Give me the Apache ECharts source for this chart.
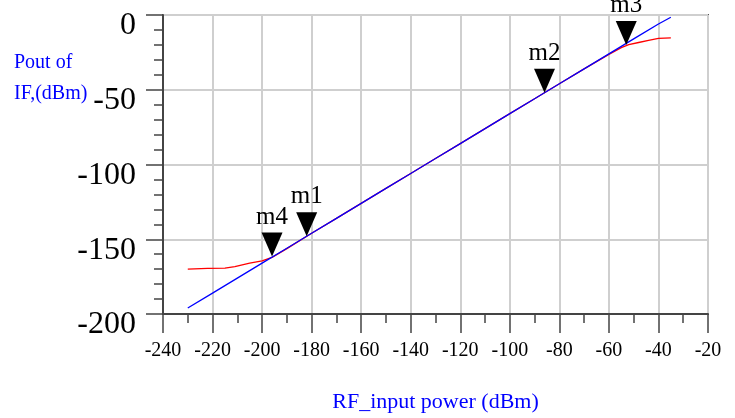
<!DOCTYPE html>
<html>
<head>
<meta charset="utf-8">
<script src="https://cdn.jsdelivr.net/npm/echarts@6/dist/echarts.min.js"></script>
<style>
  html, body { margin: 0; padding: 0; background: #fff; }
  #main { width: 735px; height: 418px; }
</style>
</head>
<body>
<div id="main"></div>
<script>
// ideal (blue) and measured (red) Pout vs RF input power
var idealX = [-230, -220, -210, -200, -190, -180, -170, -160, -150, -140, -130, -120, -110, -100, -90, -80, -70, -60, -50, -40, -35];
var idealY = [-196, -186, -176, -166, -156, -146, -136, -126, -116, -106, -96, -86, -76, -66, -56, -46, -36, -26, -16, -6, -1.5];

var measX = [-230, -222, -215, -211, -205, -200, -196, -190, -180, -170, -160, -150, -140, -130, -120, -110, -100, -90, -80, -70, -60, -55, -52, -48, -44, -40, -35];
var measY = [-170, -169.5, -169.3, -168.3, -166, -164.4, -162.2, -156.3, -146, -136, -126, -116, -106, -96, -86, -76, -66, -56, -46, -36, -26.3, -21.8, -19.8, -18.4, -17, -15.6, -15.3];

var markerNames = ['m1', 'm2', 'm3', 'm4'];
var markerX = [-182, -86, -53, -196];
var markerY = [-148, -52, -20, -161.5];

function pairs(xs, ys) {
    return xs.map(function (x, i) { return [x, ys[i]]; });
}

var serif = '"Liberation Serif", "DejaVu Serif", serif';

var chart = echarts.init(document.getElementById('main'));
var option = {
    animation: false,
    grid: {
        left: 163,
        right: 27,
        top: 15,
        bottom: 102,
        show: true,
        borderColor: '#555',
        borderWidth: 2
    },
    graphic: [
        {
            type: 'text',
            left: 14,
            top: 47,
            style: {
                text: 'Pout of\nIF,(dBm)',
                fill: '#0000ff',
                font: '20px ' + serif,
                lineHeight: 31
            }
        }
    ],
    xAxis: {
        type: 'value',
        min: -240,
        max: -20,
        interval: 20,
        name: 'RF_input power (dBm)',
        nameLocation: 'middle',
        nameGap: 77,
        nameTextStyle: {
            color: '#0000ff',
            fontSize: 22,
            fontFamily: serif
        },
        axisLine: { onZero: false, lineStyle: { color: '#444', width: 2 } },
        axisTick: { show: true, length: 19, lineStyle: { color: '#444', width: 1.5 } },
        minorTick: { show: true, splitNumber: 2, length: 9, lineStyle: { color: '#444', width: 1.5 } },
        axisLabel: {
            margin: 27,
            color: '#000',
            fontSize: 20,
            fontFamily: serif
        },
        splitLine: { show: true, lineStyle: { color: '#cfcfcf', width: 2 } }
    },
    yAxis: {
        type: 'value',
        min: -200,
        max: 0,
        interval: 50,
        axisLine: { onZero: false, lineStyle: { color: '#444', width: 2 } },
        axisTick: { show: true, length: 17, lineStyle: { color: '#444', width: 1.5 } },
        minorTick: { show: true, splitNumber: 5, length: 9, lineStyle: { color: '#444', width: 1.5 } },
        axisLabel: {
            margin: 27,
            color: '#000',
            fontSize: 32,
            fontFamily: serif,
            verticalAlign: 'top',
            lineHeight: 22
        },
        splitLine: { show: true, lineStyle: { color: '#cfcfcf', width: 2 } }
    },
    series: [
        {
            name: 'measured',
            type: 'line',
            showSymbol: false,
            lineStyle: { color: '#ff0000', width: 1.3 },
            data: pairs(measX, measY)
        },
        {
            name: 'ideal',
            type: 'line',
            showSymbol: false,
            lineStyle: { color: '#0000ff', width: 1.3 },
            data: pairs(idealX, idealY),
            markPoint: {
                symbol: 'path://M0,0 L20,0 L10,23 Z',
                symbolSize: [21, 24],
                symbolOffset: [0, -12],
                itemStyle: { color: '#000' },
                label: {
                    show: true,
                    position: 'top',
                    distance: 3,
                    formatter: '{b}',
                    color: '#000',
                    fontSize: 25,
                    fontFamily: serif
                },
                data: markerNames.map(function (n, i) {
                    return { name: n, coord: [markerX[i], markerY[i]] };
                })
            }
        }
    ]
};

chart.setOption(option);
window.addEventListener('resize', function () {
    chart.resize();
});
</script>
</body>
</html>
